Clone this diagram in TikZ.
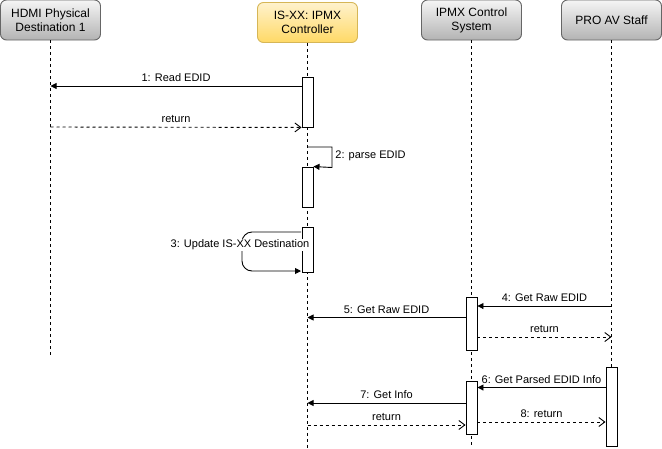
\documentclass[tikz,border=0pt]{standalone}
\usepackage{fontspec}
\setmainfont{Liberation Sans}
\usetikzlibrary{arrows.meta, positioning}
\definecolor{headline}{HTML}{666666}
\definecolor{headtop}{HTML}{F5F5F5}
\definecolor{headbot}{HTML}{B3B3B3}
\definecolor{ctrlline}{HTML}{D6B656}
\definecolor{ctrltop}{HTML}{FFF2CC}
\definecolor{ctrlbot}{HTML}{FFD966}

\begin{document}
\begin{tikzpicture}[
        x=1pt, y=-1pt, on grid, line width=0.9pt,
        >={Triangle[length=6pt,width=6pt]},
        head/.style={draw=headline, rounded corners=6pt, top color=headtop, bottom color=headbot,
          minimum width=100pt, minimum height=40pt, align=center, font=\fontsize{12}{14}\selectfont},
        ctrl/.style={head, draw=ctrlline, top color=ctrltop, bottom color=ctrlbot},
        act/.style={draw, fill=white, minimum width=11pt, inner sep=0pt},
        life/.style={dash pattern=on 3pt off 3pt},
        msg/.style={->},
        ret/.style={dash pattern=on 3pt off 3pt, -{Straight Barb[length=6pt,width=9pt]}},
        lbl/.style={midway, anchor=base, yshift=4.5pt, inner sep=0pt, font=\fontsize{11}{13}\selectfont},
        ]
        \useasboundingbox (0,0) rectangle (662,448);

        \node[head]  (h_hdmi) at (50.5,20)                    {HDMI Physical\\Destination 1};
        \node[ctrl]  (h_ctrl)  [right=257pt of h_hdmi, yshift=-2.5pt] {IS-XX: IPMX\\Controller};
        \node[head]  (h_sys)   [right=421pt of h_hdmi]        {IPMX Control\\System};
        \node[head]  (h_staff) [right=140pt of h_sys]         {PRO AV Staff};

        \coordinate (e_hdmi)  at (h_hdmi |- 0,355);
        \coordinate (e_ctrl)  at (h_ctrl |- 0,448);
        \coordinate (e_sys)   at (h_sys |- 0,448);
        \coordinate (e_staff) at (h_staff |- 0,448);

        \draw[life] (h_hdmi.south) -- (e_hdmi)
          (h_ctrl.south) -- (e_ctrl)
          (h_sys.south) -- (e_sys)
          (h_staff.south) -- (e_staff);

        \node[act, minimum height=50pt] (a_1) at (h_ctrl |- 0,102)   {};
        \node[act, minimum height=40pt] (a_2) at (h_ctrl |- 0,187)   {};
        \node[act, minimum height=53pt] (c_1) at (h_sys |- 0,323.5)  {};
        \node[act, minimum height=53pt] (c_2) at (h_sys |- 0,407.5)  {};
        \node[act, minimum height=79pt] (p_1) at (h_staff |- 0,406.5) {};

        \draw[msg] (a_1.west |- 0,86) -- (h_hdmi |- 0,86) node[lbl] {1: Read EDID};
        \draw[ret] (h_hdmi |- 0,127) -- (a_1.south west) node[lbl] {return};

        \draw[msg] (h_ctrl |- 0,147) -- (332,147) -- (332,167.5) -- (a_2.north east);
        \node[anchor=west, inner sep=0pt, font=\fontsize{11}{13}\selectfont] (l_parse) at (335,156) {2: parse EDID};

        \draw[msg, rounded corners=10pt] (301,232) -- (242,232) -- (242,271) -- (301,271);
        \node[act, minimum height=45pt] (a_3) at (h_ctrl |- 0,249.5) {};
        \node[fill=white, inner sep=0.5pt, font=\fontsize{11}{13}\selectfont] (l_update) at (240,245) {3: Update IS-XX Destination};

        \draw[msg] (h_staff |- 0,306) -- (c_1.east |- 0,306) node[lbl] {4: Get Raw EDID};
        \draw[msg] (c_1.west |- 0,317.5) -- (h_ctrl |- 0,317.5) node[lbl] {5: Get Raw EDID};
        \draw[ret] (c_1.east |- 0,337) -- (h_staff |- 0,337) node[lbl] {return};

        \draw[msg] (p_1.west |- 0,387.5) -- (c_2.east |- 0,387.5) node[lbl] {6: Get Parsed EDID Info};
        \draw[msg] (c_2.west |- 0,403) -- (h_ctrl |- 0,403) node[lbl] {7: Get Info};
        \draw[ret] (h_ctrl |- 0,425) -- (c_2.west |- 0,425) node[lbl] {return};
        \draw[ret] (c_2.east |- 0,422) -- (p_1.west |- 0,422) node[lbl] {8: return};
      \end{tikzpicture}
\end{document}
